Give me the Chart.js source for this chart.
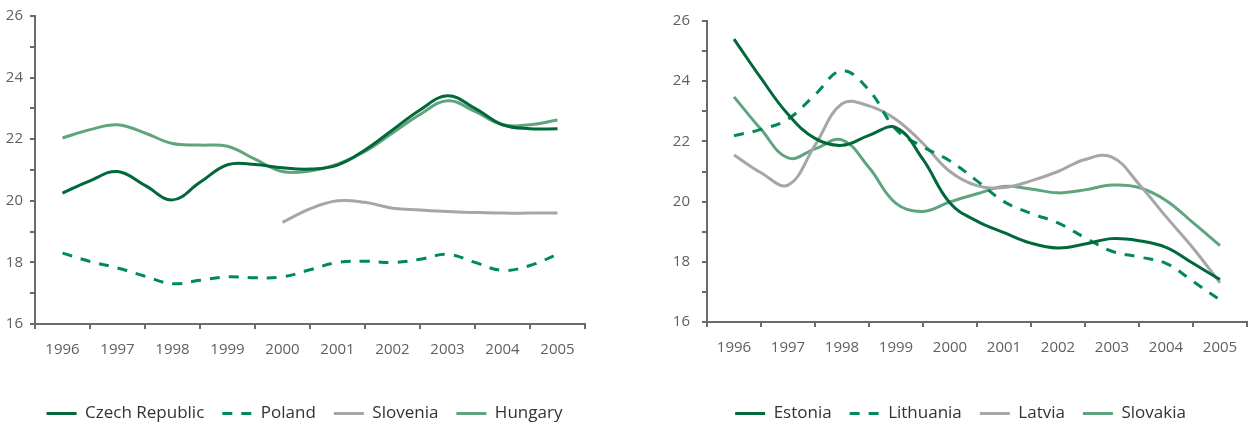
<!DOCTYPE html>
<html><head><meta charset="utf-8">
<script src="https://cdn.jsdelivr.net/npm/chart.js@4.4.1/dist/chart.umd.min.js"></script>
<style>
html,body{margin:0;padding:0;background:#fff;overflow:hidden;width:1259px;height:429px;}
#c1{position:absolute;left:0;top:0;}
#c2{position:absolute;left:672px;top:0;}
</style></head><body>
<canvas id="c1" width="600" height="432"></canvas>
<canvas id="c2" width="587" height="432"></canvas>
<script>
// half-year periods
const periods = [1996,1996.5,1997,1997.5,1998,1998.5,1999,1999.5,2000,2000.5,2001,2001.5,2002,2002.5,2003,2003.5,2004,2004.5,2005];
const yearLabels = ['1996','1997','1998','1999','2000','2001','2002','2003','2004','2005'];
const yTickLabels = ['16','18','20','22','24','26'];

const czechRepublic = [20.25,20.65,20.95,20.5,20.03,20.6,21.17,21.18,21.07,21.03,21.16,21.65,22.3,22.95,23.41,23.0,22.47,22.34,22.34];
const poland = [18.3,18.03,17.82,17.55,17.31,17.42,17.53,17.5,17.53,17.76,18.0,18.04,18.0,18.1,18.26,18.0,17.74,17.9,18.26];
const slovenia = [null,null,null,null,null,null,null,null,19.3,19.74,20.0,19.95,19.76,19.7,19.65,19.62,19.6,19.6,19.6];
const hungary = [22.04,22.31,22.47,22.2,21.86,21.81,21.77,21.35,20.95,20.97,21.19,21.6,22.2,22.8,23.25,22.9,22.47,22.47,22.62];

const estonia = [25.4,24.1,22.9,22.1,21.87,22.2,22.46,21.4,19.95,19.35,18.97,18.62,18.46,18.59,18.77,18.7,18.48,17.95,17.41];
const lithuania = [22.19,22.4,22.74,23.55,24.35,23.7,22.4,21.82,21.35,20.69,20.0,19.61,19.29,18.8,18.35,18.16,17.95,17.35,16.73];
const latvia = [21.55,20.96,20.55,21.87,23.25,23.18,22.73,21.93,21.0,20.53,20.47,20.69,21.0,21.4,21.48,20.58,19.5,18.46,17.3];
const slovakia = [23.48,22.4,21.45,21.75,22.05,21.13,19.94,19.67,19.99,20.26,20.5,20.42,20.29,20.39,20.55,20.47,20.04,19.3,18.54];

const DARK = '#00683a', DASH = '#008a55', GREY = '#a6a6a9', LIGHT = '#5ea57e';
const AXIS = '#6b6b6b';

function pts(arr){ return periods.map((p,i)=>({x:p, y:arr[i]})); }
function ds(label, arr, color, dashed){
  return {label, data: pts(arr), borderColor: color, backgroundColor: color, borderWidth: 3,
    borderDash: dashed ? [10,9] : [], pointRadius: 0, tension: 0.4, fill: false, spanGaps: false};
}
const tickFont = {family: 'Open Sans', size: 15};

function makeChart(id, datasets, o){
  return new Chart(document.getElementById(id), {
    type: 'line',
    data: {datasets},
    plugins: [{id:'shiftLegend', afterLayout(chart){ chart.legend.left += o.legendDx; chart.legend.right += o.legendDx; }}],
    options: {
      responsive: false, animation: false, devicePixelRatio: 1,
      layout: {padding: {top: o.top, right: o.right, left: 0, bottom: 0}},
      plugins: {
        tooltip: {enabled: false},
        legend: {position: 'bottom', labels: {usePointStyle: true, pointStyle: 'line', pointStyleWidth: 30, boxWidth: 30,
          padding: 18, color: '#333', font: {family: 'Open Sans', size: 17},
          generateLabels(chart){
            const items = Chart.defaults.plugins.legend.labels.generateLabels(chart);
            items.forEach(it => { const d = chart.data.datasets[it.datasetIndex]; it.lineDash = d.borderDash; it.lineWidth = 3; it.strokeStyle = d.borderColor; it.pointStyle = 'line'; });
            return items;
          }}}
      },
      scales: {
        x: {type: 'linear', min: 1995.5, max: 2005.5,
          afterFit(s){ s.height = o.xh; },
          afterBuildTicks(s){ const t=[]; for(let v=1995.5; v<=2005.51; v+=0.5) t.push({value: Math.round(v*2)/2}); s.ticks=t; },
          ticks: {autoSkip: false, maxRotation: 0, color: '#606060', font: tickFont, padding: 12,
            callback(v){ const i = yearLabels.indexOf(String(v)); return i>=0 ? yearLabels[i] : ''; }},
          grid: {drawOnChartArea: false, drawTicks: true, tickLength: 5, lineWidth: 2,
            tickColor: c => (c.tick && Number.isInteger(c.tick.value)) ? 'rgba(0,0,0,0)' : AXIS},
          border: {display: true, color: AXIS, width: 2}
        },
        y: {min: 16, max: 26,
          afterFit(s){ s.width = 35; },
          ticks: {stepSize: 1, color: '#606060', font: tickFont, padding: o.ypad,
            callback(v){ const i = yTickLabels.indexOf(String(v)); return i>=0 ? yTickLabels[i] : ''; }},
          grid: {drawOnChartArea: false, drawTicks: true, tickLength: 5, lineWidth: 2, tickColor: AXIS},
          border: {display: true, color: AXIS, width: 2}
        }
      }
    }
  });
}

makeChart('c1', [
  ds('Czech Republic', czechRepublic, DARK, false),
  ds('Poland', poland, DASH, true),
  ds('Slovenia', slovenia, GREY, false),
  ds('Hungary', hungary, LIGHT, false)
], {top: 14, right: 15, xh: 63, ypad: 7, legendDx: 12});

makeChart('c2', [
  ds('Estonia', estonia, DARK, false),
  ds('Lithuania', lithuania, DASH, true),
  ds('Latvia', latvia, GREY, false),
  ds('Slovakia', slovakia, LIGHT, false)
], {top: 12, right: 2, xh: 65, ypad: 12, legendDx: -4});
</script>
</body></html>
